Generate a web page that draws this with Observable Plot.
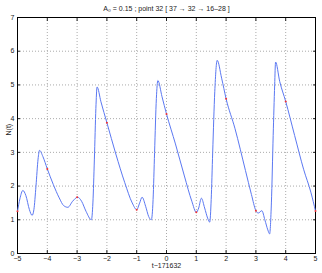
<!DOCTYPE html>
<html><head><meta charset="utf-8">
<script src="https://cdn.jsdelivr.net/npm/d3@7"></script>
<script src="https://cdn.jsdelivr.net/npm/@observablehq/plot@0.6"></script>
<style>body{margin:0;background:#fff}</style>
</head><body><div id="chart"></div>
<script>
const tValues = [-5.0,-4.92,-4.82,-4.72,-4.6,-4.51,-4.45,-4.38,-4.31,-4.26,-4.15,-4.0,-3.8,-3.6,-3.45,-3.31,-3.15,-2.98,-2.85,-2.7,-2.52,-2.47,-2.42,-2.37,-2.33,-2.2,-2.0,-1.7,-1.4,-1.15,-1.0,-0.9,-0.82,-0.7,-0.6,-0.51,-0.45,-0.4,-0.34,-0.29,-0.15,0.0,0.3,0.6,0.85,1.0,1.08,1.17,1.28,1.38,1.45,1.5,1.55,1.62,1.70,1.85,2.0,2.3,2.65,2.85,3.0,3.08,3.2,3.3,3.4,3.46,3.52,3.58,3.63,3.66,3.8,4.0,4.3,4.6,4.85,5.0];
const nValues = [1.25,1.62,1.87,1.72,1.3,1.13,1.3,2.0,2.8,3.06,2.88,2.51,2.05,1.65,1.42,1.37,1.55,1.67,1.55,1.25,1.0,1.5,2.8,4.3,4.94,4.5,3.88,2.95,2.1,1.5,1.30,1.5,1.67,1.4,1.1,1.0,1.6,3.0,4.6,5.13,4.65,4.14,3.25,2.3,1.55,1.22,1.35,1.64,1.35,1.05,0.93,1.6,3.0,4.8,5.73,5.2,4.59,3.7,2.46,1.75,1.27,1.2,1.27,1.0,0.7,0.58,1.5,3.5,5.0,5.68,5.1,4.51,3.5,2.5,1.8,1.26];
const markT = [-5,-4,-3,-2,-1,0,1,2,3,4,5];
const markN = [1.25,2.51,1.67,3.88,1.30,4.14,1.22,4.59,1.27,4.51,1.26];
const xTicks = [-5,-4,-3,-2,-1,0,1,2,3,4,5];
const yTicks = [0,1,2,3,4,5,6,7];
const titleText = "A\u2080 = 0.15 ; point 32 [ 37 \u2192 32 \u2192 16\u201328 ]";
const xLabel = "t\u2212171632";
const yLabel = "N(t)";

const curve = tValues.map((t,i)=>({t, n:nValues[i]}));
const marks = markT.map((t,i)=>({t, n:markN[i]}));

const chart = Plot.plot({
  width: 322, height: 273,
  marginLeft: 17, marginRight: 7, marginTop: 17, marginBottom: 20,
  style: {fontFamily: "Liberation Sans, Arial, sans-serif", fontSize: "7px", color: "#222", background: "#fff"},
  x: {domain: [-5,5], ticks: xTicks},
  y: {domain: [0,7], ticks: yTicks},
  marks: [
    Plot.gridX(xTicks, {stroke: "#aaa", strokeOpacity: 1, strokeDasharray: "1,2"}),
    Plot.gridY(yTicks, {stroke: "#aaa", strokeOpacity: 1, strokeDasharray: "1,2"}),
    Plot.axisX(xTicks, {anchor: "bottom", tickSize: -3, tickPadding: 6, label: null, fontSize: 7}),
    Plot.axisX(xTicks, {anchor: "top", tickSize: -3, tickFormat: () => "", label: null}),
    Plot.axisY(yTicks, {anchor: "left", tickSize: -3, tickPadding: 6, label: null, fontSize: 7}),
    Plot.axisY(yTicks, {anchor: "right", tickSize: -3, tickFormat: () => "", label: null}),
    Plot.frame({stroke: "#000", strokeWidth: 1}),
    Plot.line(curve, {x: "t", y: "n", stroke: "#5b78f2", strokeWidth: 1, curve: "monotone-x"}),
    Plot.dot(marks, {x: "t", y: "n", r: 1, fill: "#f03030", stroke: null}),
    Plot.text([titleText], {frameAnchor: "top", dy: -11, text: d => d, fontSize: 7, fill: "#222"}),
    Plot.text([xLabel], {frameAnchor: "bottom", dy: 14, text: d => d, fontSize: 7, fill: "#222"}),
    Plot.text([yLabel], {frameAnchor: "left", dx: -9, rotate: -90, text: d => d, fontSize: 7, fill: "#222"})
  ]
});
document.getElementById("chart").appendChild(chart);
</script></body></html>
